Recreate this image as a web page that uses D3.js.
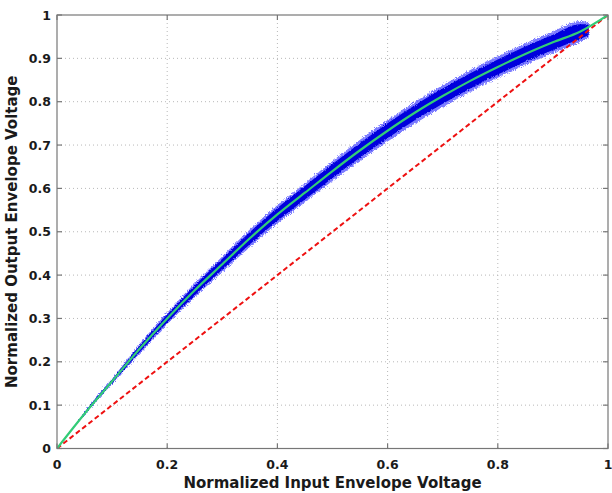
<!DOCTYPE html>
<html><head><meta charset="utf-8">
<script src="https://cdn.jsdelivr.net/npm/d3@7/dist/d3.min.js"></script>
<style>
html,body{margin:0;padding:0;background:#fff;}
svg{display:block;}
text{font-family:"DejaVu Sans",Verdana,sans-serif;font-weight:bold;fill:#1a1a1a;}
</style></head>
<body>
<svg id="chart" width="612" height="493"></svg>
<script>
// ---- data ----
const xTicks = [0, 0.2, 0.4, 0.6, 0.8, 1];
const yTicks = [0, 0.1, 0.2, 0.3, 0.4, 0.5, 0.6, 0.7, 0.8, 0.9, 1];
const xTickLabels = ["0", "0.2", "0.4", "0.6", "0.8", "1"];
const yTickLabels = ["0", "0.1", "0.2", "0.3", "0.4", "0.5", "0.6", "0.7", "0.8", "0.9", "1"];

// fitted AM/AM curve (green)
const fitInput  = [0, 0.05, 0.1, 0.15, 0.2, 0.25, 0.3, 0.35, 0.4, 0.45, 0.5, 0.55, 0.6, 0.65, 0.7, 0.75, 0.8, 0.85, 0.9, 0.95, 1.0];
const fitOutput = [0, 0.08, 0.155, 0.23, 0.30, 0.365, 0.425, 0.485, 0.54, 0.59, 0.64, 0.688, 0.733, 0.775, 0.813, 0.848, 0.88, 0.91, 0.937, 0.962, 1.0];

// measured scatter cloud (blue), read as lower / upper envelope
const cloudInput = [0.04, 0.06, 0.1, 0.15, 0.2, 0.25, 0.3, 0.35, 0.4, 0.45, 0.5, 0.55, 0.6, 0.65, 0.7, 0.75, 0.8, 0.85, 0.9, 0.95, 0.965];
const cloudLower = [0.062, 0.093, 0.149, 0.219, 0.287, 0.349, 0.407, 0.465, 0.519, 0.568, 0.617, 0.664, 0.708, 0.750, 0.788, 0.823, 0.855, 0.885, 0.912, 0.938, 0.948];
const cloudUpper = [0.066, 0.101, 0.161, 0.241, 0.313, 0.381, 0.443, 0.505, 0.561, 0.612, 0.663, 0.712, 0.758, 0.800, 0.838, 0.873, 0.905, 0.935, 0.962, 0.986, 0.984];

// linear reference (red dashed)
const refInput  = [0, 1];
const refOutput = [0, 1];

const xTitle = "Normalized Input Envelope Voltage";
const yTitle = "Normalized Output Envelope Voltage";

// ---- layout ----
const L = 57, R = 608, T = 15, B = 448.5;
const svg = d3.select("#chart");
const x = d3.scaleLinear().domain([0, 1]).range([L, R]);
const y = d3.scaleLinear().domain([0, 1]).range([B, T]);

const defs = svg.append("defs");
const f1 = defs.append("filter").attr("id", "rough").attr("x", "-5%").attr("y", "-5%").attr("width", "110%").attr("height", "110%");
f1.append("feTurbulence").attr("type", "fractalNoise").attr("baseFrequency", "0.9").attr("numOctaves", 2).attr("seed", 3).attr("result", "n");
f1.append("feDisplacementMap").attr("in", "SourceGraphic").attr("in2", "n").attr("scale", 5).attr("xChannelSelector", "R").attr("yChannelSelector", "G");
const f2 = defs.append("filter").attr("id", "rough2").attr("x", "-5%").attr("y", "-5%").attr("width", "110%").attr("height", "110%");
f2.append("feTurbulence").attr("type", "fractalNoise").attr("baseFrequency", "1.3").attr("numOctaves", 2).attr("seed", 7).attr("result", "n");
f2.append("feDisplacementMap").attr("in", "SourceGraphic").attr("in2", "n").attr("scale", 3).attr("xChannelSelector", "R").attr("yChannelSelector", "G");
defs.append("clipPath").attr("id", "plotClip").append("rect").attr("x", L).attr("y", T).attr("width", R - L).attr("height", B - T);

// grid
const grid = svg.append("g").attr("stroke", "#b8b8b8").attr("stroke-width", 1).attr("stroke-dasharray", "1,3");
grid.selectAll("line.gx").data(xTicks.slice(1, -1)).join("line")
  .attr("x1", d => x(d)).attr("x2", d => x(d)).attr("y1", T).attr("y2", B);
grid.selectAll("line.gy").data(yTicks.slice(1, -1)).join("line")
  .attr("y1", d => y(d)).attr("y2", d => y(d)).attr("x1", L).attr("x2", R);

const plot = svg.append("g").attr("clip-path", "url(#plotClip)");

// cloud
const cloud = cloudInput.map((v, i) => ({x: v, lo: cloudLower[i], hi: cloudUpper[i]}));
const area = d3.area().x(d => x(d.x)).y0(d => y(d.lo)).y1(d => y(d.hi)).curve(d3.curveMonotoneX);
plot.append("path").datum(cloud).attr("d", area).attr("fill", "#4444ff").attr("opacity", 0.7).attr("filter", "url(#rough)");
const inner = cloud.map(d => ({x: d.x, lo: d.lo + (d.hi - d.lo) * 0.15, hi: d.hi - (d.hi - d.lo) * 0.15}));
plot.append("path").datum(inner).attr("d", area).attr("fill", "#0000dd").attr("filter", "url(#rough2)");

// red dashed reference
const line = d3.line().x(d => x(d[0])).y(d => y(d[1]));
plot.append("path").datum(refInput.map((v, i) => [v, refOutput[i]])).attr("d", line)
  .attr("fill", "none").attr("stroke", "#ee1111").attr("stroke-width", 2).attr("stroke-dasharray", "5,3");

// green fit
plot.append("path").datum(fitInput.map((v, i) => [v, fitOutput[i]])).attr("d", line.curve(d3.curveMonotoneX))
  .attr("fill", "none").attr("stroke", "#33cc77").attr("stroke-width", 2.2);

// box & ticks
const axis = svg.append("g").attr("stroke", "#777").attr("stroke-width", 1.2);
axis.append("rect").attr("x", L).attr("y", T).attr("width", R - L).attr("height", B - T).attr("fill", "none");
const tl = 5;
axis.selectAll("line.xt").data(xTicks).join("line").attr("x1", d => x(d)).attr("x2", d => x(d)).attr("y1", B).attr("y2", B - tl);
axis.selectAll("line.xt2").data(xTicks).join("line").attr("x1", d => x(d)).attr("x2", d => x(d)).attr("y1", T).attr("y2", T + tl);
axis.selectAll("line.yt").data(yTicks).join("line").attr("y1", d => y(d)).attr("y2", d => y(d)).attr("x1", L).attr("x2", L + tl);
axis.selectAll("line.yt2").data(yTicks).join("line").attr("y1", d => y(d)).attr("y2", d => y(d)).attr("x1", R).attr("x2", R - tl);

// tick labels
svg.append("g").selectAll("text").data(xTicks).join("text")
  .attr("x", d => x(d)).attr("y", 469).attr("text-anchor", "middle").attr("font-size", 12.5)
  .text((d, i) => xTickLabels[i]);
svg.append("g").selectAll("text").data(yTicks).join("text")
  .attr("x", 51).attr("y", d => y(d) + 4.5).attr("text-anchor", "end").attr("font-size", 12.5)
  .text((d, i) => yTickLabels[i]);

// titles
svg.append("text").attr("x", (L + R) / 2).attr("y", 488).attr("text-anchor", "middle").attr("font-size", 15).text(xTitle);
svg.append("text").attr("transform", `translate(17,${(T + B) / 2}) rotate(-90)`).attr("text-anchor", "middle").attr("font-size", 15).text(yTitle);
</script>
</body></html>
